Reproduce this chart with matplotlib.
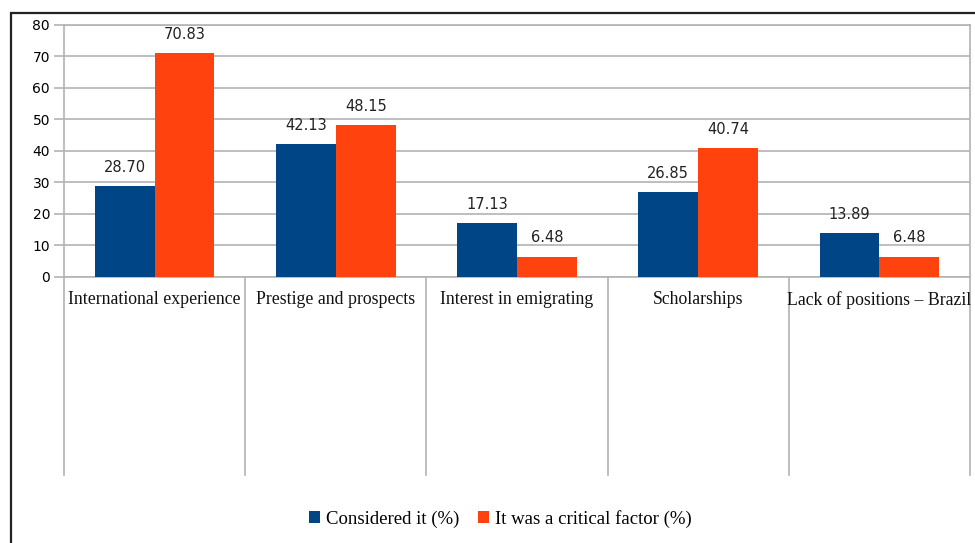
import numpy as np
import matplotlib.pyplot as plt
from matplotlib.patches import Rectangle, Patch

# data
categories = ["International experience", "Prestige and prospects", "Interest in emigrating",
              "Scholarships", "Lack of positions \u2013 Brazil"]
considered = [28.70, 42.13, 17.13, 26.85, 13.89]
critical = [70.83, 48.15, 6.48, 40.74, 6.48]
series_names = ["Considered it (%)", "It was a critical factor (%)"]

blue = "#004586"
orange = "#ff420e"
gridc = "#b3b3b3"

fig = plt.figure(figsize=(9.75, 5.43), dpi=100)
ax = fig.add_axes([64/975, 1-277/543, (970-64)/975, (277-24.5)/543])

x = np.arange(len(categories))
w = 0.33
b1 = ax.bar(x - w/2, considered, w, color=blue, zorder=3)
b2 = ax.bar(x + w/2, critical, w, color=orange, zorder=3)

for bars in (b1, b2):
    ax.bar_label(bars, fmt="%.2f", padding=8, fontsize=10.5, color="#222222",
                 family="DejaVu Sans")

ax.set_xlim(-0.5, len(categories) - 0.5)
ax.set_ylim(0, 80)
ax.set_yticks(range(0, 81, 10))
ax.yaxis.grid(True, color=gridc, linewidth=1.2, zorder=0)
ax.tick_params(axis="y", length=7, color=gridc, width=1.2, labelsize=10, pad=3)
ax.tick_params(axis="x", length=0)
ax.set_xticks([])
for s in ax.spines.values():
    s.set_color(gridc)
    s.set_linewidth(1.2)

# category separators below the axis
trans = ax.get_xaxis_transform()
ybot = -(475 - 277) / (277 - 24.5)
for sx in np.arange(-0.5, len(categories), 1.0):
    ax.plot([sx, sx], [0, ybot], transform=trans, color=gridc, lw=1.2, clip_on=False)

ylab = -(291 - 277) / (277 - 24.5)
for i, c in enumerate(categories):
    ax.text(i, ylab, c, transform=trans, ha="center", va="top", fontsize=12.8,
            family="Liberation Serif", color="#111111")

handles = [Patch(facecolor=blue), Patch(facecolor=orange)]
fig.legend(handles, series_names, loc="center", bbox_to_anchor=(500/975, 1-519/543),
           ncol=2, frameon=False, prop={"family": "Liberation Serif", "size": 13.5},
           handlelength=0.6, handleheight=0.6, handletextpad=0.3, columnspacing=1.0)

# outer frame (left and top edges visible)
fig.patches.append(Rectangle((11/975, -0.1), 1.0, 1.1 - 13/543, transform=fig.transFigure,
                             fill=False, edgecolor="#222222", linewidth=1.6))

fig.savefig("out.png", dpi=100)
